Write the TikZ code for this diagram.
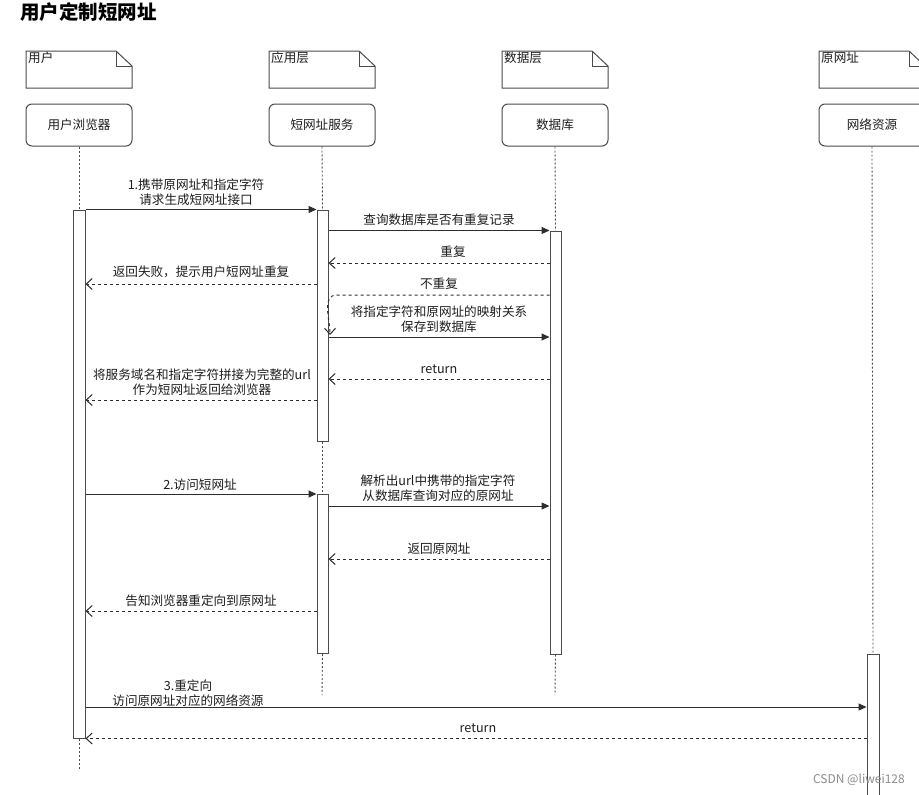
\documentclass[tikz,border=0pt]{standalone}
\usepackage{fontspec}
\setmainfont{Noto Sans CJK SC}
\usetikzlibrary{arrows.meta}
\definecolor{linec}{RGB}{45,45,45}
\definecolor{boxc}{RGB}{75,75,75}
\definecolor{txtc}{RGB}{30,30,30}
\tikzset{
  lbl/.style={font=\fontsize{12.6}{15}\selectfont, text=txtc, align=center, inner sep=0pt},
  roundbox/.style={draw=boxc, line width=1pt, rounded corners=6pt, minimum width=106pt, minimum height=42pt, inner sep=0pt, font=\fontsize{12.6}{14}\selectfont, text=txtc},
  actbar/.style={draw=boxc, fill=white, line width=1pt, minimum width=11pt, inner sep=0pt},
  lifeline/.style={draw=boxc, line width=0.9pt, dash pattern=on 2pt off 2pt},
  notebox/.style={draw=boxc, line width=1pt, fill=white},
  sync/.style={draw=linec, line width=1pt, -{Triangle[length=8pt,width=7pt]}},
  reply/.style={draw=linec, line width=1pt, dash pattern=on 3pt off 3pt, -{Straight Barb[length=6pt,width=11pt,line width=1pt]}},
}
\begin{document}
\begin{tikzpicture}[x=1pt,y=-1pt]
\useasboundingbox (0,0) rectangle (919,795);
\fill[white] (0,0) rectangle (919,795);

% title
\node[anchor=west, font=\fontsize{19.5}{21}\selectfont\bfseries, inner sep=0pt] (title) at (20,12) {用户定制短网址};

% notes (lane headers)
\foreach \x/\t/\n in {26/用户/nu, 269/应用层/na, 502/数据层/nd, 819/原网址/nr}{
  \draw[notebox] (\x,51) -- (\x+90,51) -- (\x+106,66) -- (\x+106,88) -- (\x,88) -- cycle;
  \draw[boxc, line width=1pt] (\x+90,51) -- (\x+90,66) -- (\x+106,66);
  \node[lbl, anchor=north west] (\n) at (\x+2,52) {\t};
}

% participant boxes
\node[roundbox] (ub) at (79,125) {用户浏览器};
\node[roundbox] (sb) at (322,125) {短网址服务};
\node[roundbox] (db) at (555,125) {数据库};
\node[roundbox] (rb) at (872,125) {网络资源};

% activation bars
\node[actbar, minimum width=12pt, minimum height=528pt] (ua) at (79,474) {};
\node[actbar, minimum height=231pt] (sa1) at (322.5,325.5) {};
\node[actbar, minimum height=159pt] (sa2) at (322.5,574) {};
\node[actbar, minimum height=423pt] (da) at (555.5,442.5) {};
\node[actbar, minimum width=12pt, minimum height=150pt] (ra) at (873,729) {};

% lifelines
\draw[lifeline] (ub.south) -- (ua.north);
\draw[lifeline] (ua.south) -- (79,770);
\draw[lifeline] (sb.south) -- (sa1.north);
\draw[lifeline] (sa1.south) -- (sa2.north);
\draw[lifeline] (sa2.south) -- (322,695);
\draw[lifeline] (db.south) -- (da.north);
\draw[lifeline] (da.south) -- (555,695);
\draw[lifeline] (rb.south) -- (ra.north);

% 1
\draw[sync] (ua.north east) -- (sa1.north west);
\node[lbl] (l1) at (196,192) {1.携带原网址和指定字符\\请求生成短网址接口};
% 2
\draw[sync] (sa1.east |- da.north) -- (da.north west);
\node[lbl] (l2) at (439,220) {查询数据库是否有重复记录};
% 3
\draw[reply] (da.west |- 0,263) -- (sa1.east |- 0,263);
\node[lbl] (l3) at (453,252) {重复};
% 4
\draw[reply] (sa1.west |- 0,284) -- (ua.east |- 0,284);
\node[lbl] (l4) at (201,272) {返回失败，提示用户短网址重复};
% 5
\node[lbl] (l5) at (439,284) {不重复};
\coordinate (c5) at (330,335);
\draw[reply] (da.west |- 0,295) -- (337,295) to[out=180,in=90] (c5);
% 6
\draw[sync] (sa1.east |- 0,337) -- (da.west |- 0,337);
\node[lbl] (l6) at (439,319) {将指定字符和原网址的映射关系\\保存到数据库};
% 7
\draw[reply] (da.west |- 0,379) -- (sa1.east |- 0,379);
\node[lbl] (l7) at (439,369) {return};
% 8
\draw[reply] (sa1.west |- 0,400) -- (ua.east |- 0,400);
\node[lbl] (l8) at (202,382) {将服务域名和指定字符拼接为完整的url\\作为短网址返回给浏览器};
% 9
\draw[sync] (ua.east |- sa2.north) -- (sa2.north west);
\node[lbl] (l9) at (200,485) {2.访问短网址};
% 10
\draw[sync] (sa2.east |- 0,506) -- (da.west |- 0,506);
\node[lbl] (l10) at (438,488) {解析出url中携带的指定字符\\从数据库查询对应的原网址};
% 11
\draw[reply] (da.west |- 0,559) -- (sa2.east |- 0,559);
\node[lbl] (l11) at (439,549) {返回原网址};
% 12
\draw[reply] (sa2.west |- 0,611) -- (ua.east |- 0,611);
\node[lbl] (l12) at (201,601) {告知浏览器重定向到原网址};
% 13
\draw[sync] (ua.east |- 0,707) -- (ra.west |- 0,707);
\node[lbl] (l13) at (188,693) {3.重定向\\访问原网址对应的网络资源};
% 14
\draw[reply] (ra.west |- ua.south) -- (ua.south east);
\node[lbl] (l14) at (478,728) {return};

% watermark
\node[font=\fontsize{12}{13}\selectfont, text=black!45, anchor=east, inner sep=0pt] (wm) at (905,780) {CSDN @liwei128};
\end{tikzpicture}
\end{document}
